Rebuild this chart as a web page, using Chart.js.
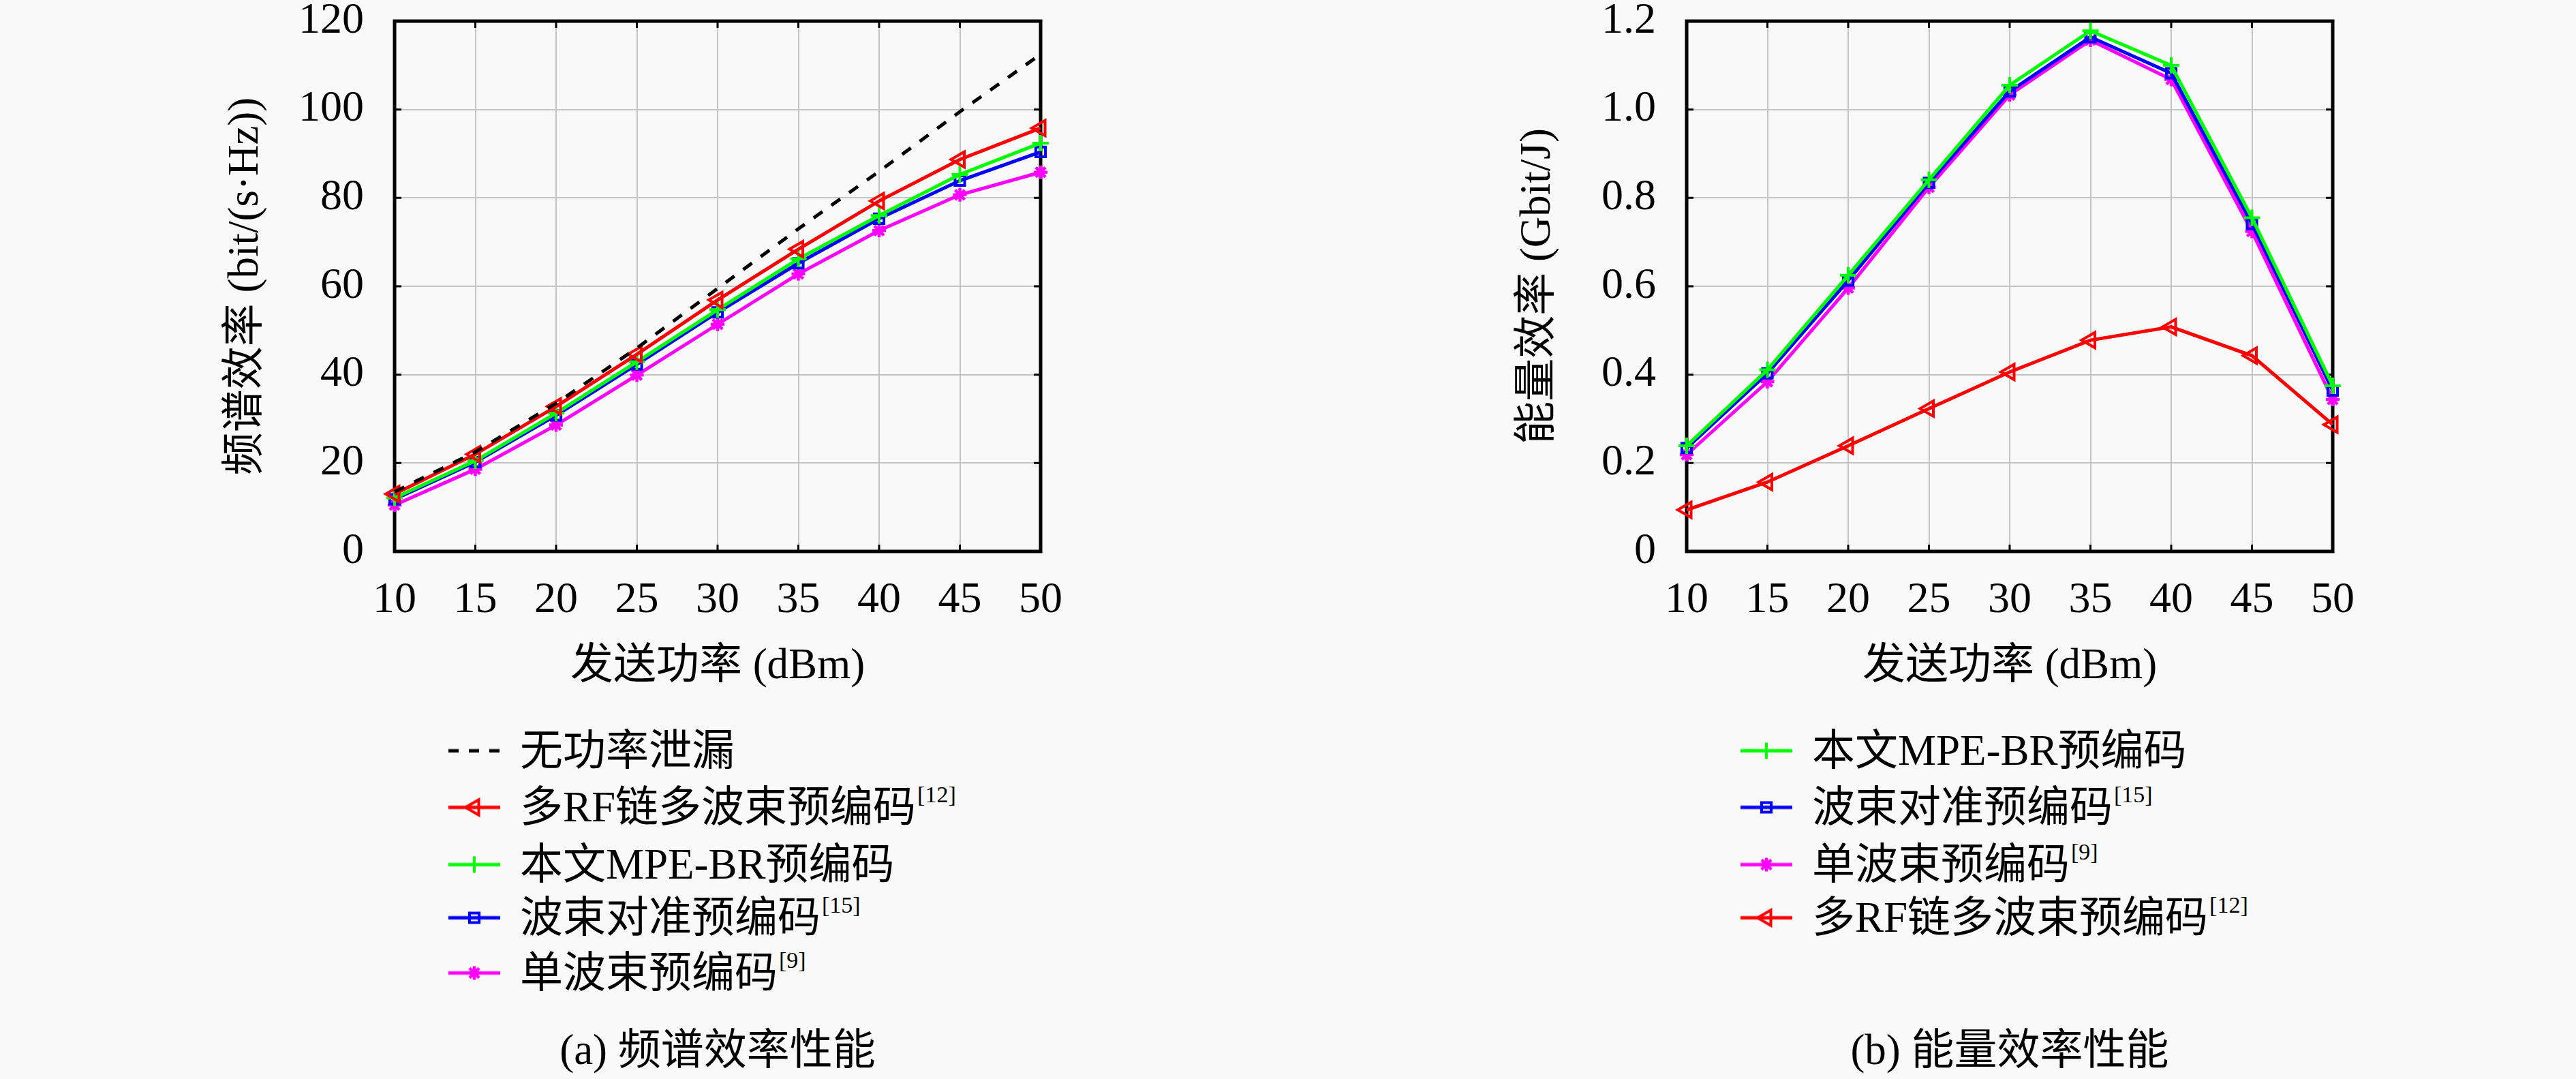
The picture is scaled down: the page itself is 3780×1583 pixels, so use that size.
<!DOCTYPE html>
<html><head><meta charset="utf-8">
<script src="https://cdn.jsdelivr.net/npm/chart.js@4.4.1/dist/chart.umd.min.js"></script>
<style>
html,body{margin:0;padding:0;background:#f9f9f9;}
#wrap{position:relative;width:3780px;height:1583px;background:#f9f9f9;overflow:hidden;font-family:'Liberation Serif','Noto Sans CJK SC',serif;color:#000;}
canvas.chart{position:absolute;top:0;}
.item{position:absolute;display:flex;align-items:center;font-size:63px;line-height:1;white-space:nowrap;transform:translateY(-50%);}
.item canvas{margin-right:28px;}
.item sup{font-size:34px;line-height:1;align-self:flex-start;margin-top:-4px;margin-left:2px;}
.cap{position:absolute;font-size:63px;line-height:1;transform:translate(-50%,-50%);white-space:nowrap;}
</style></head>
<body><div id="wrap">
<canvas id="c1" class="chart" width="1890" height="1050" style="left:0px;width:1890px;height:1050px"></canvas>
<canvas id="c2" class="chart" width="1884" height="1050" style="left:1896px;width:1884px;height:1050px"></canvas>
</div>
<script>
// ---- data ----
const categories = ['10','15','20','25','30','35','40','45','50'];
const seNoLeak     = [13.5, 22.5, 33.5, 46.0, 59.5, 73.0, 86.0, 99.5, 112.5];
const seMultiRF    = [13.0, 22.0, 32.8, 44.6, 56.9, 68.4, 79.3, 88.7, 95.8];
const seProposed   = [12.1, 20.5, 31.3, 42.9, 54.7, 66.2, 76.0, 85.3, 92.4];
const seBeamAlign  = [11.8, 20.2, 30.8, 42.3, 54.1, 65.2, 75.3, 83.9, 90.4];
const seSingleBeam = [10.5, 18.6, 28.6, 39.9, 51.4, 62.8, 72.6, 80.7, 85.8];
const eeProposed   = [0.239, 0.411, 0.625, 0.841, 1.055, 1.178, 1.100, 0.755, 0.375];
const eeBeamAlign  = [0.234, 0.403, 0.613, 0.834, 1.041, 1.164, 1.082, 0.741, 0.364];
const eeSingleBeam = [0.219, 0.384, 0.596, 0.824, 1.033, 1.157, 1.068, 0.724, 0.344];
const eeMultiRF    = [0.094, 0.157, 0.239, 0.323, 0.406, 0.478, 0.508, 0.443, 0.287];
const seTickValues = [0, 20, 40, 60, 80, 100, 120];
const seTickLabels = ['0', '20', '40', '60', '80', '100', '120'];
const eeTickValues = [0, 0.2, 0.4, 0.6, 0.8, 1.0, 1.2];
const eeTickLabels = ['0', '0.2', '0.4', '0.6', '0.8', '1.0', '1.2'];
const seriesNames = {
  noLeak: '无功率泄漏',
  multiRF: '多RF链多波束预编码',
  proposed: '本文MPE-BR预编码',
  beamAlign: '波束对准预编码',
  singleBeam: '单波束预编码'
};
const seriesRefs = { noLeak: '', multiRF: '[12]', proposed: '', beamAlign: '[15]', singleBeam: '[9]' };

// ---- styles ----
const STY = {
  noLeak:     { color: '#000000', pointStyle: false, radius: 0, dash: [16, 16], bw: 5 },
  multiRF:    { color: '#ff0000', pointStyle: 'triangle', rotation: -90, radius: 13, pbw: 4, bw: 5 },
  proposed:   { color: '#00ff00', pointStyle: 'cross', rotation: 0, radius: 12, pbw: 4, bw: 5 },
  beamAlign:  { color: '#0000ff', pointStyle: 'rect', rotation: 0, radius: 10, pbw: 4, bw: 5 },
  singleBeam: { color: '#ff00ff', pointStyle: 'star', rotation: 0, radius: 10, pbw: 4.5, bw: 5 }
};
const NUMFONT = "'Liberation Serif', serif";
const TXTFONT = "'Liberation Serif', 'Noto Sans CJK SC', serif";
const GRID = '#c4c4c4';

function ds(key, data) {
  const s = STY[key];
  return {
    label: seriesNames[key], data: data,
    borderColor: s.color, backgroundColor: 'transparent',
    borderWidth: s.bw, borderDash: s.dash || [],
    pointStyle: s.pointStyle || 'circle', pointRadius: s.radius, pointHoverRadius: s.radius,
    pointRotation: s.rotation || 0, pointBorderWidth: s.pbw || 0,
    pointBorderColor: s.color, pointBackgroundColor: 'rgba(0,0,0,0)',
    tension: 0, fill: false, clip: false
  };
}

const framePlugin = {
  id: 'frame',
  beforeDatasetsDraw(chart) {
    const { ctx, chartArea: { left, right, top, bottom }, scales: { x, y } } = chart;
    ctx.save();
    ctx.strokeStyle = '#000';
    ctx.lineWidth = 3;
    ctx.beginPath();
    x.ticks.forEach((t, i) => {
      const px = x.getPixelForTick(i);
      ctx.moveTo(px, bottom); ctx.lineTo(px, bottom - 10);
      ctx.moveTo(px, top); ctx.lineTo(px, top + 10);
    });
    y.ticks.forEach((t, i) => {
      const py = y.getPixelForTick(i);
      ctx.moveTo(left, py); ctx.lineTo(left + 10, py);
      ctx.moveTo(right, py); ctx.lineTo(right - 10, py);
    });
    ctx.stroke();
    ctx.lineWidth = 5;
    ctx.strokeRect(left, top, right - left, bottom - top);
    ctx.restore();
  }
};

function makeChart(id, datasets, yMax, tickValues, tickLabels, yTitle, rightPad) {
  return new Chart(document.getElementById(id), {
    type: 'line',
    data: { labels: categories, datasets: datasets },
    options: {
      responsive: false, animation: false, devicePixelRatio: 1,
      layout: { padding: { left: 0, top: 31, right: rightPad, bottom: 0 } },
      plugins: { legend: { display: false }, tooltip: { enabled: false } },
      scales: {
        x: {
          type: 'category', offset: false,
          grid: { color: GRID, lineWidth: 2, drawTicks: false, offset: false },
          border: { display: false },
          ticks: { font: { family: NUMFONT, size: 64 }, color: '#000', padding: 34, maxRotation: 0, autoSkip: false },
          title: { display: true, text: '发送功率 (dBm)', color: '#000', font: { family: TXTFONT, size: 63 }, padding: { top: 0, bottom: 34 } },
          afterFit(s) { s.height = 241; s.paddingLeft = 0; s.paddingRight = 0; }
        },
        y: {
          type: 'linear', min: 0, max: yMax,
          afterBuildTicks(s) { s.ticks = tickValues.map(v => ({ value: v })); },
          grid: { color: GRID, lineWidth: 2, drawTicks: false },
          border: { display: false },
          ticks: { font: { family: NUMFONT, size: 64 }, color: '#000', padding: 45,
                   callback: (v, i) => tickLabels[i] },
          title: { display: true, text: yTitle, color: '#000', font: { family: TXTFONT, size: 63 }, padding: { top: 324, bottom: 0 } },
          afterFit(s) { s.width = 579; s.paddingTop = 0; s.paddingBottom = 0; }
        }
      }
    },
    plugins: [framePlugin]
  });
}

makeChart('c1', [
  ds('noLeak', seNoLeak), ds('multiRF', seMultiRF), ds('proposed', seProposed),
  ds('beamAlign', seBeamAlign), ds('singleBeam', seSingleBeam)
], 120, seTickValues, seTickLabels, '频谱效率 (bit/(s·Hz))', 363);

makeChart('c2', [
  ds('multiRF', eeMultiRF), ds('proposed', eeProposed),
  ds('beamAlign', eeBeamAlign), ds('singleBeam', eeSingleBeam)
], 1.2, eeTickValues, eeTickLabels, '能量效率 (Gbit/J)', 357);

// ---- legends (HTML) ----
const wrap = document.getElementById('wrap');
function legendItem(key, x, cy) {
  const s = STY[key];
  const div = document.createElement('div');
  div.className = 'item';
  div.style.left = x + 'px';
  div.style.top = cy + 'px';
  const cv = document.createElement('canvas');
  cv.width = 78; cv.height = 44;
  cv.style.width = '78px'; cv.style.height = '44px';
  const c = cv.getContext('2d');
  c.strokeStyle = s.color; c.lineWidth = s.bw;
  c.setLineDash(s.dash ? [15, 15] : []);
  c.beginPath(); c.moveTo(1, 22); c.lineTo(77, 22); c.stroke();
  c.setLineDash([]);
  if (s.pointStyle) {
    c.fillStyle = 'rgba(0,0,0,0)';
    c.lineWidth = s.pbw;
    if (Chart.helpers && Chart.helpers.drawPoint) {
      Chart.helpers.drawPoint(c, { pointStyle: s.pointStyle, rotation: s.rotation || 0, radius: s.radius, borderWidth: s.pbw }, 39, 22);
    }
  }
  div.appendChild(cv);
  const sp = document.createElement('span');
  sp.textContent = seriesNames[key];
  div.appendChild(sp);
  if (seriesRefs[key]) {
    const sup = document.createElement('sup');
    sup.textContent = seriesRefs[key];
    div.appendChild(sup);
  }
  wrap.appendChild(div);
}
const leftOrder = ['noLeak', 'multiRF', 'proposed', 'beamAlign', 'singleBeam'];
const leftY = [1101, 1184, 1268, 1346, 1427];
leftOrder.forEach((k, i) => legendItem(k, 657, leftY[i]));
const rightOrder = ['proposed', 'beamAlign', 'singleBeam', 'multiRF'];
const rightY = [1101, 1184, 1268, 1346];
rightOrder.forEach((k, i) => legendItem(k, 2553, rightY[i]));

function caption(text, cx, cy) {
  const d = document.createElement('div');
  d.className = 'cap'; d.textContent = text;
  d.style.left = cx + 'px'; d.style.top = cy + 'px';
  wrap.appendChild(d);
}
caption('(a) 频谱效率性能', 1053, 1540);
caption('(b) 能量效率性能', 2949, 1540);
</script>
</body></html>
